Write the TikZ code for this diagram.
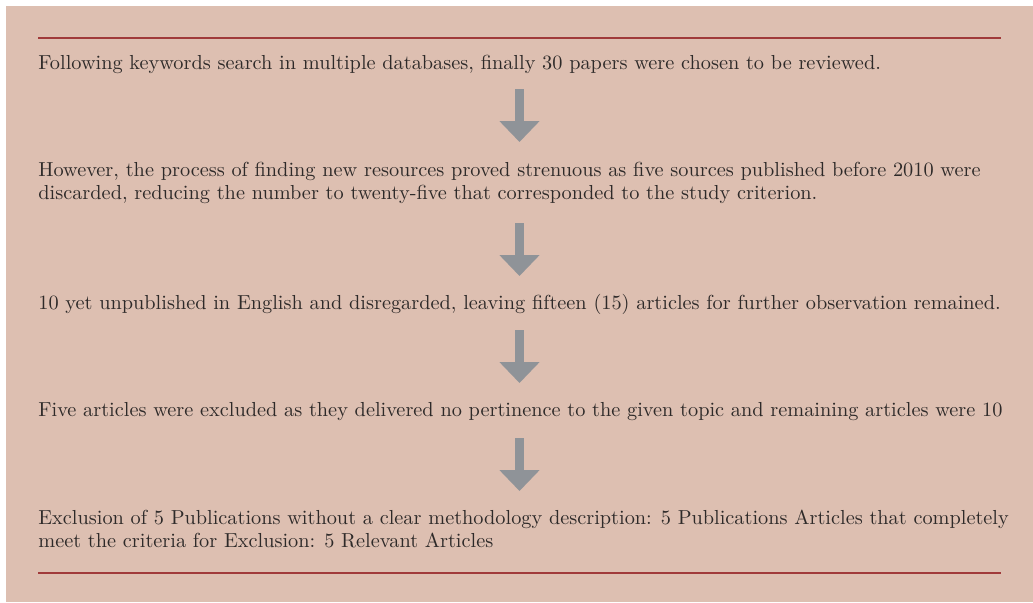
\documentclass[tikz,border=0pt]{standalone}
\usepackage{tikz}
\usetikzlibrary{%
  positioning
 ,arrows.meta
 ,calc
}
\definecolor{panelbg}{HTML}{DDBFB1}
\definecolor{rulered}{HTML}{A03A3A}
\definecolor{arrowgray}{HTML}{8F9398}
\definecolor{textdark}{HTML}{2E2A29}
\tikzstyle{flow}=[x=0.5pt,y=-0.5pt]
\tikzstyle{stage}=[anchor=base west,inner sep=0pt,align=left,text=textdark,font=\fontsize{10.15pt}{11.5pt}\selectfont]
\tikzstyle{rule}=[draw=rulered,line width=1pt]
\tikzstyle{down}=[draw=arrowgray,line width=4.5pt,-{Triangle[width=19.5pt,length=10.5pt]}]

\begin{document}
\begin{tikzpicture}[flow]
  \useasboundingbox (0,0) rectangle (1033,602);
  \fill[panelbg] (6,6) rectangle (1033,602);
  \draw[rule] (38,38.3) -- (1001,38.3);
  \draw[rule] (38,572.5) -- (1001,572.5);
%
  % multi-line stages sit on their last baseline
  \node[stage] (t1) at (38,69) {Following keywords search in multiple databases, finally 30 papers were chosen to be reviewed.};
  \node[stage] (t2) at (38,199) {However, the process of finding new resources proved strenuous as five sources published before 2010 were\\discarded, reducing the number to twenty-five that corresponded to the study criterion.};
  \node[stage] (t3) at (38,309) {10 yet unpublished in English and disregarded, leaving fifteen (15) articles for further observation remained.};
  \node[stage] (t4) at (38,416) {Five articles were excluded as they delivered no pertinence to the given topic and remaining articles were 10};
  \node[stage] (t5) at (38,547) {Exclusion of 5 Publications without a clear methodology description: 5 Publications Articles that completely\\meet the criteria for Exclusion: 5 Relevant Articles};
%
  \coordinate (a1) at (519.5,89);  \coordinate (b1) at (519.5,142);
  \coordinate (a2) at (519.5,223); \coordinate (b2) at (519.5,276);
  \coordinate (a3) at (519.5,330); \coordinate (b3) at (519.5,383);
  \coordinate (a4) at (519.5,438); \coordinate (b4) at (519.5,491);
  \foreach \i in {1,...,4}
    \draw[down] (a\i) -- (b\i);
\end{tikzpicture}
\end{document}
